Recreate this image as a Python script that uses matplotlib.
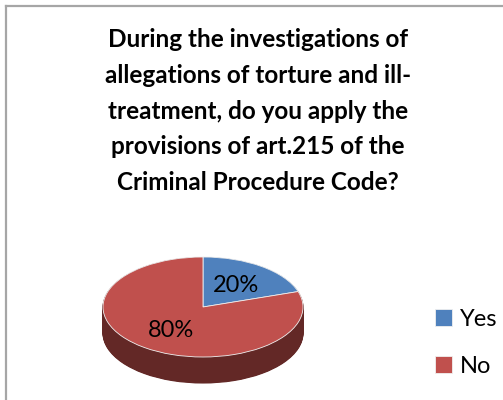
import matplotlib
matplotlib.use('Agg')
import matplotlib.pyplot as plt
from matplotlib.lines import Line2D

labels = ['Yes', 'No']
values = [20, 80]
pct_labels = ['20%', '80%']
top_colors = ['#4F81BD', '#C0504D']
side_colors = ['#2E4B6E', '#632826']
title = ("During the investigations of\nallegations of torture and ill-\n"
         "treatment, do you apply the\nprovisions of art.215 of the\n"
         "Criminal Procedure Code?")

plt.rcParams['font.family'] = ['Lato', 'DejaVu Sans']

W, H = 503, 400
fig = plt.figure(figsize=(W / 100, H / 100), dpi=100)
fig.patch.set_facecolor('white')

# border (top and left visible)
fig.add_artist(Line2D([5.5 / W, 5.5 / W], [0, 1 - 5.5 / H], transform=fig.transFigure,
                      color='#A6A6A6', lw=1.6))
fig.add_artist(Line2D([5.5 / W, 1], [1 - 5.5 / H, 1 - 5.5 / H], transform=fig.transFigure,
                      color='#A6A6A6', lw=1.6))

# pie geometry in pixels
cx, cy = 203, 307
a, b = 100, 50
depth = 26
pad = 10
top_px = cy - b - pad
bot_px = cy + b + depth + pad
ax = fig.add_axes([(cx - a - pad) / W, (H - bot_px) / H, (2 * a + 2 * pad) / W,
                   (bot_px - top_px) / H])

d = depth / b
n = 40
for i in range(n, 0, -1):
    off = d * i / n
    ax.pie(values, colors=side_colors, startangle=90, counterclock=False,
           center=(0, -off), wedgeprops=dict(linewidth=0.8, edgecolor=None))
    for w, c in zip(ax.patches[-2:], side_colors):
        w.set_edgecolor(c)

wedges, _ = ax.pie(values, colors=top_colors, startangle=90, counterclock=False,
                   wedgeprops=dict(linewidth=0.6, edgecolor='#F0F0F0'))

ax.text(0.33, 0.43, pct_labels[0], ha='center', va='center', fontsize=17)
ax.text(-0.32, -0.47, pct_labels[1], ha='center', va='center', fontsize=17)

ax.set_aspect('auto')
ax.set_xlim(-1 - pad / a, 1 + pad / a)
ax.set_ylim(-(b + depth + pad) / b, (b + pad) / b)
ax.axis('off')

fig.text(258 / W, 1 - 111 / H, title, ha='center', va='center', fontsize=17.5,
         fontweight='bold', linespacing=1.68)

fig.legend(handles=wedges, labels=labels, loc='center left',
           bbox_to_anchor=(435 / W, 1 - 343 / H), frameon=False, fontsize=17,
           handlelength=0.74, handleheight=0.74, handletextpad=0.3,
           labelspacing=1.1, borderpad=0, borderaxespad=0)

fig.savefig('out.png', dpi=100, facecolor='white')
